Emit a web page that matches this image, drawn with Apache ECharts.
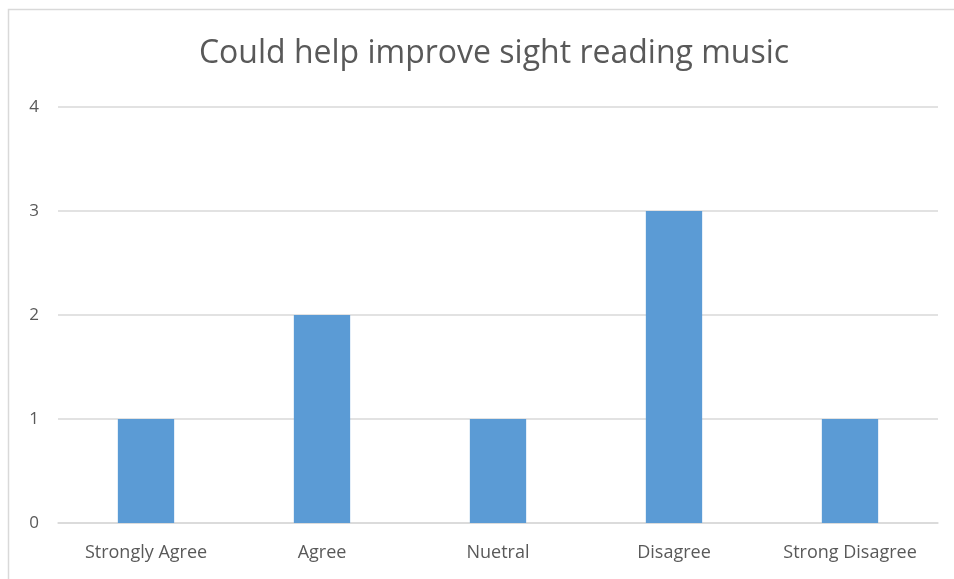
<!DOCTYPE html>
<html>
<head>
<meta charset="utf-8">
<style>
  html, body { margin: 0; padding: 0; background: #fff; }
  #chart { width: 954px; height: 579px; }
</style>
<script src="https://cdn.jsdelivr.net/npm/echarts@6/dist/echarts.min.js"></script>
</head>
<body>
<div id="chart"></div>
<script>
// Survey responses
const chartTitle = 'Could help improve sight reading music';
const categories = ['Strongly Agree', 'Agree', 'Nuetral', 'Disagree', 'Strong Disagree'];
const counts = [1, 2, 1, 3, 1];
const yTicks = [0, 1, 2, 3, 4];

const chart = echarts.init(document.getElementById('chart'));
chart.setOption({
  animation: false,
  graphic: [{
    type: 'rect',
    shape: { x: 8.5, y: 9.5, width: 1000, height: 1000 },
    style: { fill: 'none', stroke: '#d9d9d9', lineWidth: 1.5 },
    silent: true
  }],
  title: {
    text: chartTitle,
    left: 489,
    textAlign: 'center',
    top: 33,
    textStyle: {
      fontFamily: 'Open Sans',
      fontSize: 32,
      fontWeight: 'normal',
      color: '#595959'
    }
  },
  grid: { left: 58, right: 16, top: 107, bottom: 56, containLabel: false },
  xAxis: {
    type: 'category',
    data: categories,
    axisLine: { lineStyle: { color: '#d9d9d9', width: 1.5 } },
    axisTick: { show: false },
    axisLabel: {
      color: '#595959',
      fontFamily: 'Open Sans',
      fontSize: 18,
      margin: 21
    }
  },
  yAxis: {
    type: 'value',
    min: yTicks[0],
    max: yTicks[yTicks.length - 1],
    interval: 1,
    axisLine: { show: false },
    axisTick: { show: false },
    splitLine: { lineStyle: { color: '#d9d9d9', width: 1.5 } },
    axisLabel: {
      color: '#595959',
      fontFamily: 'Open Sans',
      fontSize: 17,
      margin: 19
    }
  },
  series: [{
    type: 'bar',
    data: counts,
    barWidth: '32%',
    itemStyle: { color: '#5b9bd5' }
  }]
});
</script>
</body>
</html>
